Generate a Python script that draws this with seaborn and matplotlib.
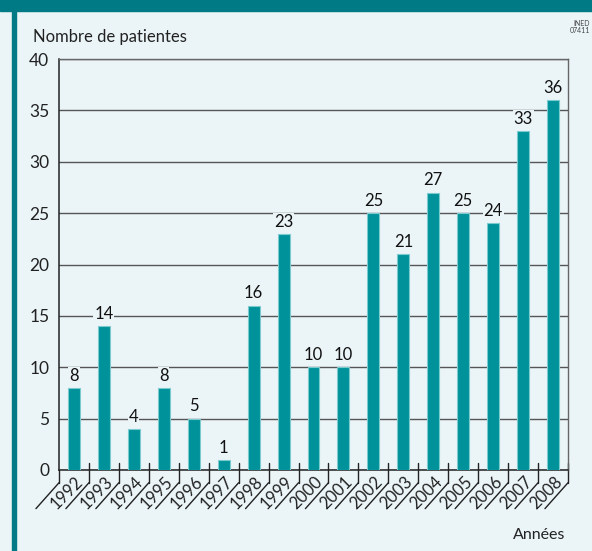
import matplotlib
matplotlib.use("Agg")
import matplotlib.pyplot as plt
import matplotlib.transforms as mtransforms
from matplotlib.patches import Rectangle
import seaborn as sns
import pandas as pd

years = [str(y) for y in range(1992, 2009)]
patients = [8, 14, 4, 8, 5, 1, 16, 23, 10, 10, 25, 21, 27, 25, 24, 33, 36]
y_ticks = [0, 5, 10, 15, 20, 25, 30, 35, 40]

bg = "#EBF5F8"
teal_dark = "#007A85"
bar_color = "#00929A"

sns.set_style("white")
plt.rcParams["font.family"] = ["Lato", "DejaVu Sans"]

df = pd.DataFrame({"annee": years, "n": patients})

fig = plt.figure(figsize=(5.92, 5.51), dpi=100, facecolor=bg)
ax = fig.add_axes([59 / 592, 81 / 551, 509 / 592, 411 / 551])
ax.set_facecolor(bg)

# frame decorations (title band + left border)
fig.patches.append(Rectangle((0, 1 - 11 / 551), 1, 11 / 551, transform=fig.transFigure,
                             color=teal_dark, zorder=0))
fig.patches.append(Rectangle((12 / 592, 0), 4 / 592, 1, transform=fig.transFigure,
                             color=teal_dark, zorder=0))

sns.barplot(data=df, x="annee", y="n", color=bar_color, width=0.4, saturation=1,
            edgecolor="#7CCBCF", linewidth=0.8, ax=ax, zorder=3)

for c in ax.containers:
    labels = ax.bar_label(c, padding=3, fontsize=12, color="#111111", zorder=4)
    for t in labels:
        t.set_bbox(dict(facecolor=bg, edgecolor="none", pad=0.6))

ax.set_xlim(-0.5, len(years) - 0.5)
ax.set_ylim(0, 40)
ax.set_yticks(y_ticks)
ax.tick_params(axis="y", length=0, pad=7, labelsize=12.5, labelcolor="#222222")
ax.yaxis.grid(True, color="#555555", linewidth=1)
ax.set_axisbelow(True)
ax.set_xlabel("")
ax.set_ylabel("")

for side in ["left", "bottom"]:
    ax.spines[side].set_color("#222222")
    ax.spines[side].set_linewidth(1.1)
for side in ["top", "right"]:
    ax.spines[side].set_color("#666666")
    ax.spines[side].set_linewidth(1)

# x axis: separators, diagonals and slanted year labels
ax.set_xticks([])
trans = mtransforms.blended_transform_factory(ax.transData, ax.transAxes)
for i in range(len(years) + 1):
    b = i - 0.5
    top = 0 if i == 0 else 0.018
    ax.plot([b, b], [top, -0.031], color="#222222", lw=1, transform=trans, clip_on=False)
    ax.plot([b, b - 0.77], [-0.031, -0.094], color="#222222", lw=1, transform=trans,
            clip_on=False)

for i, yr in enumerate(years):
    off = mtransforms.ScaledTranslation(-7 / 100, -23 / 100, fig.dpi_scale_trans)
    ax.text(i, 0, yr, transform=trans + off, rotation=45, ha="center", va="center",
            fontsize=12, color="#222222")

fig.text(33 / 592, 1 - 37 / 551, "Nombre de patientes", fontsize=12, color="#222222",
         va="center", ha="left")
fig.text(565 / 592, 1 - 535 / 551, "Années", fontsize=11.5, color="#222222",
         va="center", ha="right")
fig.text(590 / 592, 1 - 27 / 551, "INED\n07411", fontsize=5, color="#444444",
         va="center", ha="right", linespacing=1.1)

fig.savefig("out.png", dpi=100, facecolor=bg)
